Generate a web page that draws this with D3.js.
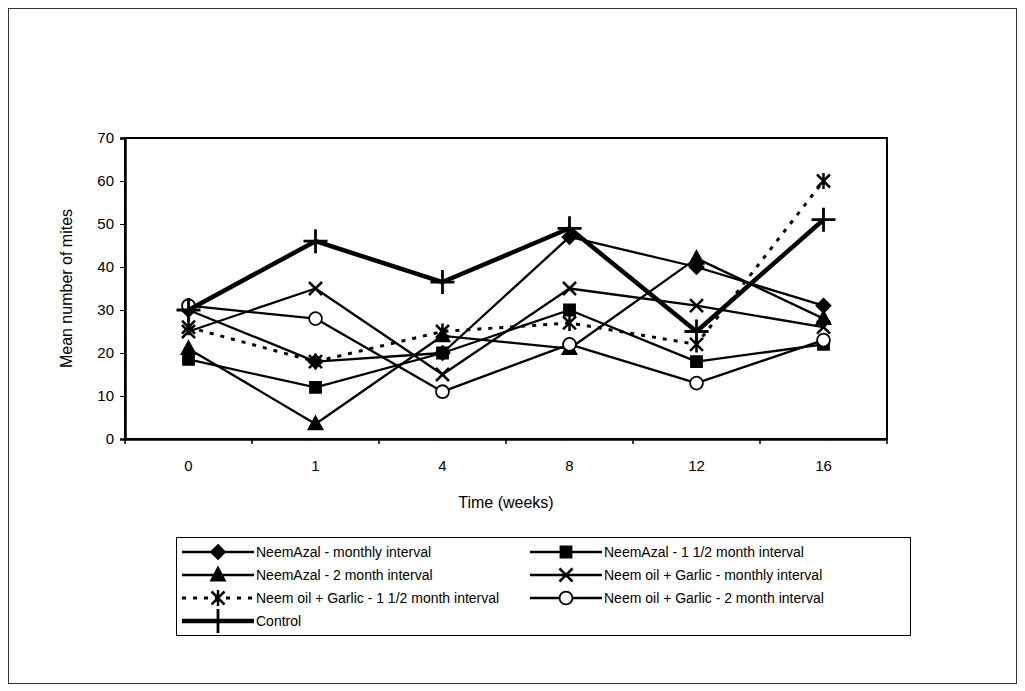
<!DOCTYPE html>
<html>
<head>
<meta charset="utf-8">
<script src="https://cdn.jsdelivr.net/npm/d3@7"></script>
<style>
  body { margin: 0; background: #fff; }
  text { font-family: "Liberation Sans", Arial, sans-serif; fill: #000; }
</style>
</head>
<body>
<div id="chart"></div>
<script>
// data
var weeks = ["0", "1", "4", "8", "12", "16"];
var yTicks = [0, 10, 20, 30, 40, 50, 60, 70];

var neemAzalMonthly   = [30, 18, 20, 47, 40, 31];
var neemAzal15        = [18.5, 12, 20, 30, 18, 22];
var neemAzal2         = [21, 3.5, 24, 21, 42, 28];
var garlicMonthly     = [25, 35, 15, 35, 31, 26];
var garlic15          = [26, 18, 25, 27, 22, 60];
var garlic2           = [31, 28, 11, 22, 13, 23];
var control           = [30, 46, 36.5, 49, 25, 51];

var seriesNames = [
  "NeemAzal - monthly interval",
  "NeemAzal - 1 1/2 month interval",
  "NeemAzal - 2 month interval",
  "Neem oil + Garlic - monthly interval",
  "Neem oil + Garlic - 1 1/2 month interval",
  "Neem oil + Garlic - 2 month interval",
  "Control"
];

var W = 1025, H = 691;
var margin = {top: 138, left: 125, right: 138, bottom: 252};
var width = W - margin.left - margin.right;    // 762
var height = H - margin.top - margin.bottom;   // 301

var svg = d3.select("#chart")
  .append("svg")
    .attr("width", W)
    .attr("height", H);

// outer frame
svg.append("rect")
  .attr("x", 8.5).attr("y", 8.5)
  .attr("width", 1008).attr("height", 675)
  .attr("fill", "none")
  .attr("stroke", "#333")
  .attr("stroke-width", 1);

var g = svg.append("g")
  .attr("transform", "translate(" + margin.left + "," + margin.top + ")");

var x = d3.scaleBand()
  .domain(weeks)
  .range([0, width])
  .padding(0);

var y = d3.scaleLinear()
  .domain([0, 70])
  .range([height, 0]);

function cx(d, i) { return x(weeks[i]) + x.bandwidth() / 2; }

// plot frame
g.append("rect")
  .attr("x", 0).attr("y", 0)
  .attr("width", width).attr("height", height)
  .attr("fill", "none")
  .attr("stroke", "#000")
  .attr("stroke-width", 2);

// y axis
var yAxis = g.append("g")
  .call(d3.axisLeft(y).tickValues(yTicks).tickSize(5).tickPadding(6));
yAxis.select(".domain").attr("stroke-width", 2.5);
yAxis.selectAll("text")
  .style("font-size", "15px")
  .style("font-family", "Liberation Sans, Arial, sans-serif");

// x axis, ticks sit between categories
var xAxis = g.append("g")
  .attr("transform", "translate(0," + height + ")")
  .call(d3.axisBottom(x).tickSize(0).tickPadding(21));
xAxis.select(".domain").attr("stroke-width", 2.5);
xAxis.selectAll("text")
  .style("font-size", "15px")
  .style("font-family", "Liberation Sans, Arial, sans-serif");
xAxis.selectAll(".bound")
  .data(weeks.concat([null]))
  .enter().append("line")
    .attr("x1", function(d, i) { return i * x.step(); })
    .attr("x2", function(d, i) { return i * x.step(); })
    .attr("y1", 0).attr("y2", 5)
    .attr("stroke", "#000")
    .attr("stroke-width", 1.5);

// axis titles
svg.append("text")
  .attr("transform", "translate(72," + (margin.top + height / 2) + ") rotate(-90)")
  .attr("text-anchor", "middle")
  .style("font-size", "16px")
  .text("Mean number of mites");

svg.append("text")
  .attr("x", margin.left + width / 2)
  .attr("y", 508)
  .attr("text-anchor", "middle")
  .style("font-size", "16px")
  .text("Time (weeks)");

// marker shapes
var shapes = {
  diamond: "M0,-7L7,0L0,7L-7,0Z",
  square: "M-5.5,-5.5H5.5V5.5H-5.5Z",
  triangle: "M0,-7.5L7,5.5L-7,5.5Z",
  cross: "M-6.5,-6.5L6.5,6.5M6.5,-6.5L-6.5,6.5",
  star: "M-6.5,-6.5L6.5,6.5M6.5,-6.5L-6.5,6.5M0,-8V8",
  circle: d3.symbol().type(d3.symbolCircle).size(130)(),
  plus: "M-12,0H12M0,-12V12"
};

var series = [
  {name: seriesNames[0], values: neemAzalMonthly, shape: "diamond", fill: "#000", lw: 2.3, dash: null},
  {name: seriesNames[1], values: neemAzal15, shape: "square", fill: "#000", lw: 2.3, dash: null},
  {name: seriesNames[2], values: neemAzal2, shape: "triangle", fill: "#000", lw: 2.3, dash: null},
  {name: seriesNames[3], values: garlicMonthly, shape: "cross", fill: "none", lw: 2.3, dash: null},
  {name: seriesNames[4], values: garlic15, shape: "star", fill: "none", lw: 3, dash: "4,7"},
  {name: seriesNames[5], values: garlic2, shape: "circle", fill: "#fff", lw: 2.3, dash: null},
  {name: seriesNames[6], values: control, shape: "plus", fill: "none", lw: 4.5, dash: null}
];

var line = d3.line()
  .x(function(d, i) { return cx(d, i); })
  .y(function(d) { return y(d); });

function drawMarker(sel, s) {
  var open = (s.shape == "cross" || s.shape == "star" || s.shape == "plus");
  sel.append("path")
    .attr("d", shapes[s.shape])
    .attr("fill", open ? "none" : s.fill)
    .attr("stroke", "#000")
    .attr("stroke-width", s.shape == "plus" ? 2.8 : (open ? 2.5 : 1.8));
}

series.forEach(function(s) {
  g.append("path")
    .datum(s.values)
    .attr("fill", "none")
    .attr("stroke", "#000")
    .attr("stroke-width", s.lw)
    .attr("stroke-dasharray", s.dash)
    .attr("stroke-linejoin", "round")
    .attr("d", line);

  s.values.forEach(function(v, i) {
    var m = g.append("g")
      .attr("transform", "translate(" + cx(v, i) + "," + y(v) + ")");
    drawMarker(m, s);
  });
});

// legend
var lg = svg.append("g");
lg.append("rect")
  .attr("x", 176.5).attr("y", 537.5)
  .attr("width", 734).attr("height", 98)
  .attr("fill", "none")
  .attr("stroke", "#000")
  .attr("stroke-width", 1);

var colX = [182, 530];
var rowY = [552, 575, 598, 621];

series.forEach(function(s, i) {
  var lx = colX[i % 2], ly = rowY[Math.floor(i / 2)];
  var e = lg.append("g").attr("transform", "translate(" + lx + "," + ly + ")");
  e.append("line")
    .attr("x1", 0).attr("x2", 72)
    .attr("y1", 0).attr("y2", 0)
    .attr("stroke", "#000")
    .attr("stroke-width", s.lw)
    .attr("stroke-dasharray", s.dash);
  var m = e.append("g").attr("transform", "translate(36,0)");
  drawMarker(m, s);
  e.append("text")
    .attr("x", 74)
    .attr("y", 5)
    .style("font-size", "14px")
    .text(s.name);
});
</script>
</body>
</html>
